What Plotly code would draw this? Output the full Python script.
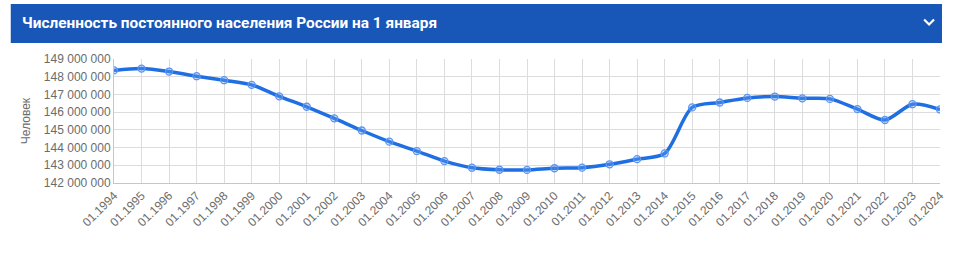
import plotly.graph_objects as go

years = list(range(1994, 2025))
labels = [f"01.{y}" for y in years]
population = [148355867, 148459937, 148291638, 148028613, 147802133, 147539426,
              146890128, 146303611, 145649334, 144963650, 144333586, 143801046,
              143236582, 142862692, 142747535, 142737196, 142833502, 142865433,
              143056383, 143347059, 143666931, 146267288, 146544710, 146804372,
              146880432, 146780720, 146748590, 146171015, 145557576, 146447424,
              146150789]
title_text = "Численность постоянного населения России на 1 января"
y_title = "Человек"

W, H = 959, 266
L, R, T, B = 114, 13, 59, 83
PW, PH = W - L - R, H - T - B

def px(x):
    return (x - L) / PW

def py(y):
    return (H - B - y) / PH

fig = go.Figure()
fig.add_trace(go.Scatter(
    x=labels, y=population, mode="lines+markers",
    line=dict(color="#1f6fe3", width=3.5, shape="spline", smoothing=0.8),
    marker=dict(symbol="circle", size=7, color="rgba(120,165,245,0.3)",
                line=dict(color="#5a95f2", width=1.3)),
    hoverinfo="x+y", showlegend=False,
))

fig.update_layout(
    width=W, height=H,
    margin=dict(l=L, r=R, t=T, b=B),
    paper_bgcolor="white", plot_bgcolor="white",
    separators=", ",
    font=dict(family="Liberation Sans, Arial, sans-serif", color="#6b6b6b"),
    xaxis=dict(type="category", range=[0, len(labels) - 1],
               tickangle=-45, tickfont=dict(size=12, color="#6b6b6b"),
               showgrid=True, gridcolor="#dcdcdc", gridwidth=1,
               showline=True, linecolor="#c6c6c6", linewidth=1,
               ticks="", zeroline=False),
    yaxis=dict(range=[142e6, 149e6], dtick=1e6, tickformat=",d",
               tickfont=dict(size=12, color="#6b6b6b"),
               showgrid=True, gridcolor="#dcdcdc", gridwidth=1,
               showline=True, linecolor="#c6c6c6", linewidth=1,
               ticks="", zeroline=False,
               title=dict(text=y_title, font=dict(size=12, color="#6b6b6b"), standoff=10)),
    shapes=[
        dict(type="rect", xref="paper", yref="paper",
             x0=px(10), x1=px(948), y0=py(43), y1=py(4),
             fillcolor="#1857b7", line=dict(width=0), layer="above"),
        dict(type="path", xref="paper", yref="paper",
             path=f"M {px(930)},{py(19.5)} L {px(935)},{py(24.5)} L {px(940)},{py(19.5)}",
             line=dict(color="white", width=2.2)),
    ],
    annotations=[
        dict(text=f"<b>{title_text}</b>", xref="paper", yref="paper",
             x=px(19), y=py(23.5), xanchor="left", yanchor="middle",
             showarrow=False, font=dict(family="Roboto, Inter, sans-serif", size=15.4, color="white")),
    ],
)

fig.write_html("out.html")
